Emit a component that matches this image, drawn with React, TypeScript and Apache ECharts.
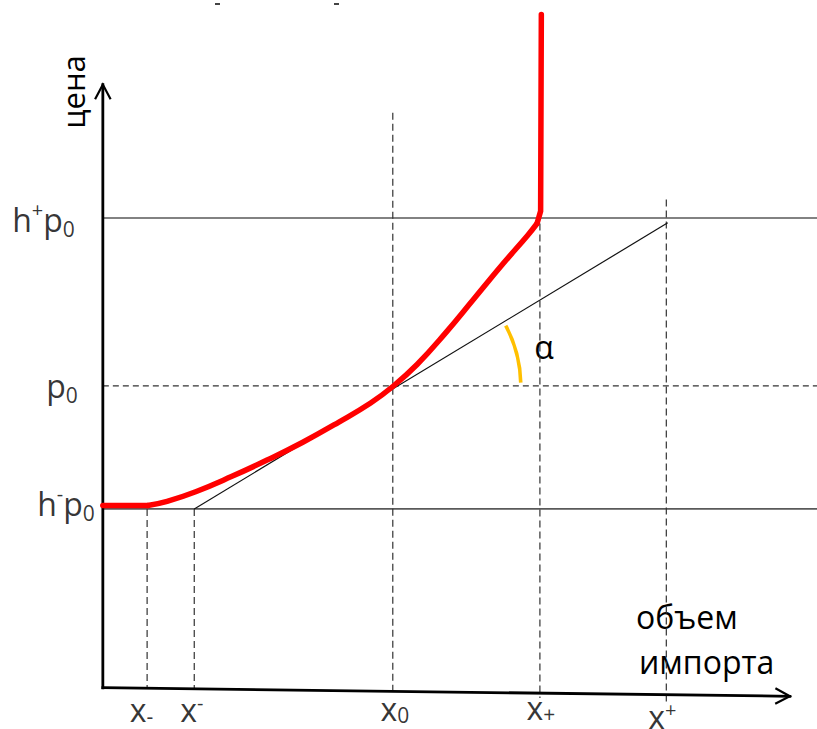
import React, { useEffect, useRef } from 'react';
import * as echarts from 'echarts';

const FONT = "'Open Sans', 'Noto Sans', 'DejaVu Sans', sans-serif";

// abstract axis ranges (quantity on x, price on y)
const Q_MIN = -14.4;
const Q_MAX = 100;
const P_MIN = -6;
const P_MAX = 100;

// price levels: h+p0, p0, h-p0
const priceLevels = [68.3, 43.9, 26.0];
const priceLabels = ['{m|h}{sup|+}{m|p}{sub|0}', '{m|p}{sub|0}', '{m|h}{sup|-}{m|p}{sub|0}'];

// quantity marks: x-, x^-, x0, x+, x^+
const quantityLevels = [6.2, 12.8, 40.6, 61.2, 78.9];
const quantityLabels = ['{m|x}{sub|-}', '{m|x}{sup|-}', '{m|x}{sub|0}', '{m|x}{sub|+}', '{m|x}{sup|+}'];
const quantityGuideTop = [26.0, 26.0, 83.6, 70.7, 71.0];
const quantityGuideBottom = [-0.1, -0.2, -0.6, -1.5, -2.4];

// import supply curve (red)
const supplyQ = [0, 6.3, 9, 13, 18, 23, 28, 33, 37.5, 40.6, 44, 48, 52, 56, 59.5, 60.8, 61.3, 61.4];
const supplyP = [26.5, 26.5, 27.1, 28.5, 30.7, 33.1, 35.7, 38.6, 41.4, 43.8, 47.0, 51.6, 56.6, 61.6, 65.8, 67.5, 69.3, 97.9];

// tangent line through (x0, p0)
const tangentQ = [12.8, 79.1];
const tangentP = [26.0, 67.6];

// drawn axes (start, arrow tip)
const axisXQ = [0, 96.2];
const axisXP = [0, -1.24];
const axisYQ = [0, 0];
const axisYP = [0, 87.7];

// vertex of angle alpha
const alphaVertex = [40.6, 43.9];

const yLabelOffsets = [[-28, 1], [-25, 0], [-8, -5]];
const xLabelOffsets = [[-5.5, 5], [-2.5, 5], [2, 4], [1, 3], [-4, 12]];

const richY = {
  m: { fontSize: 32, lineHeight: 40, fontFamily: FONT, color: '#000' },
  sub: { fontSize: 21, lineHeight: 20, verticalAlign: 'bottom', fontFamily: FONT, color: '#000' },
  sup: { fontSize: 20, lineHeight: 24, verticalAlign: 'top', fontFamily: FONT, color: '#000' },
};
const richX = {
  m: { fontSize: 32, lineHeight: 34, fontFamily: FONT, color: '#000' },
  sub: { fontSize: 21, lineHeight: 14, verticalAlign: 'bottom', fontFamily: FONT, color: '#000' },
  sup: { fontSize: 20, lineHeight: 18, verticalAlign: 'top', fontFamily: FONT, color: '#000' },
};

function pair(qs: number[], ps: number[], from = 0, to = qs.length) {
  const out: number[][] = [];
  for (let i = from; i < to; i++) out.push([qs[i], ps[i]]);
  return out;
}

export default function App() {
  const ref = useRef<HTMLDivElement>(null);

  useEffect(() => {
    if (!ref.current) return;
    const chart = echarts.init(ref.current, undefined, { renderer: 'svg' });

    const series: any[] = [];

    // horizontal price lines
    priceLevels.forEach((lvl, i) => {
      series.push({
        type: 'line',
        silent: true,
        symbol: 'none',
        z: 2,
        data: [[0, lvl], [Q_MAX, lvl]],
        lineStyle: i === 1
          ? { color: '#333', width: 1.3, type: [6, 4] }
          : { color: '#595959', width: 1.6 },
      });
    });

    // vertical dashed guides
    quantityLevels.forEach((q, i) => {
      series.push({
        type: 'line',
        silent: true,
        symbol: 'none',
        z: 2,
        data: [[q, quantityGuideTop[i]], [q, quantityGuideBottom[i]]],
        lineStyle: { color: '#333', width: 1.2, type: [7, 4] },
      });
    });

    // tangent
    series.push({
      type: 'line',
      silent: true,
      symbol: 'none',
      z: 3,
      data: pair(tangentQ, tangentP),
      lineStyle: { color: '#111', width: 1.2 },
    });

    // axes with arrow heads
    series.push({
      type: 'custom',
      silent: true,
      z: 5,
      data: [
        [axisXQ[0], axisXP[0], axisXQ[1], axisXP[1]],
        [axisYQ[0], axisYP[0], axisYQ[1], axisYP[1]],
      ],
      renderItem: (params: any, api: any) => {
        const a = api.coord([api.value(0), api.value(1)]);
        const b = api.coord([api.value(2), api.value(3)]);
        const ang = Math.atan2(b[1] - a[1], b[0] - a[0]);
        const L = 16.5;
        const h = 0.49;
        const w1 = [b[0] - L * Math.cos(ang - h), b[1] - L * Math.sin(ang - h)];
        const w2 = [b[0] - L * Math.cos(ang + h), b[1] - L * Math.sin(ang + h)];
        return {
          type: 'group',
          children: [
            { type: 'line', shape: { x1: a[0], y1: a[1], x2: b[0], y2: b[1] }, style: { stroke: '#000', lineWidth: 2.8, lineCap: 'square' } },
            { type: 'polyline', shape: { points: [w1, b, w2] }, style: { stroke: '#000', fill: 'none', lineWidth: 2.2 } },
          ],
        };
      },
    });

    // red supply curve: flat part, curved part, vertical part
    const red = { color: '#FF0000', width: 5.5, cap: 'round', join: 'round' };
    series.push({ type: 'line', silent: true, symbol: 'none', z: 6, data: pair(supplyQ, supplyP, 0, 2), lineStyle: red });
    series.push({
      type: 'line', silent: true, symbol: 'none', z: 6,
      smooth: 0.45,
      data: pair(supplyQ, supplyP, 1, 16),
      lineStyle: red,
    });
    series.push({
      type: 'line', silent: true, symbol: 'none', z: 6,
      data: pair(supplyQ, supplyP, 15, supplyQ.length),
      lineStyle: red,
    });

    // angle arc
    series.push({
      type: 'custom',
      silent: true,
      z: 4,
      data: [alphaVertex],
      renderItem: (params: any, api: any) => {
        const c = api.coord([api.value(0), api.value(1)]);
        return {
          type: 'arc',
          shape: { cx: c[0], cy: c[1], r: 128, startAngle: -0.49, endAngle: -0.025, clockwise: true },
          style: { stroke: '#FFC000', fill: 'none', lineWidth: 3.6 },
        };
      },
    });

    // y labels
    series.push({
      type: 'scatter',
      silent: true,
      symbolSize: 0,
      itemStyle: { color: 'transparent' },
      z: 7,
      data: priceLevels.map((lvl, i) => ({
        value: [0, lvl],
        label: {
          show: true,
          position: 'left',
          distance: 0,
          offset: yLabelOffsets[i],
          formatter: priceLabels[i],
          rich: richY,
        },
      })),
    });

    // x labels
    series.push({
      type: 'scatter',
      silent: true,
      symbolSize: 0,
      itemStyle: { color: 'transparent' },
      z: 7,
      data: quantityLevels.map((q, i) => ({
        value: [q, 0],
        label: {
          show: true,
          position: 'bottom',
          distance: 0,
          offset: xLabelOffsets[i],
          formatter: quantityLabels[i],
          rich: richX,
        },
      })),
    });

    chart.setOption({
      animation: false,
      backgroundColor: '#ffffff',
      grid: { left: 0, top: 0, width: 817, height: 729, containLabel: false },
      xAxis: { type: 'value', min: Q_MIN, max: Q_MAX, show: false },
      yAxis: { type: 'value', min: P_MIN, max: P_MAX, show: false },
      graphic: [
        {
          type: 'text', x: 73, y: 92, rotation: Math.PI / 2,
          style: { text: 'цена', fontSize: 31, fontFamily: FONT, fill: '#000', align: 'center', verticalAlign: 'middle', textAlign: 'center', textVerticalAlign: 'middle' },
        },
        {
          type: 'text', x: 636, y: 616,
          style: { text: 'объем', fontSize: 32, fontFamily: FONT, fill: '#000', align: 'left', verticalAlign: 'middle', textAlign: 'left', textVerticalAlign: 'middle' },
        },
        {
          type: 'text', x: 639, y: 661,
          style: { text: 'импорта', fontSize: 32, fontFamily: FONT, fill: '#000', align: 'left', verticalAlign: 'middle', textAlign: 'left', textVerticalAlign: 'middle' },
        },
        {
          type: 'text', x: 544, y: 346,
          style: { text: 'α', fontSize: 32, fontFamily: FONT, fill: '#000', align: 'center', verticalAlign: 'middle', textAlign: 'center', textVerticalAlign: 'middle' },
        },
        { type: 'rect', shape: { x: 215, y: 3, width: 5, height: 2 }, style: { fill: '#444' } },
        { type: 'rect', shape: { x: 334, y: 3, width: 5, height: 2 }, style: { fill: '#444' } },
      ],
      series,
    });

    return () => chart.dispose();
  }, []);

  return (
    <div
      ref={ref}
      style={{ position: 'absolute', left: 0, top: 0, width: 817, height: 729, background: '#fff' }}
    />
  );
}
